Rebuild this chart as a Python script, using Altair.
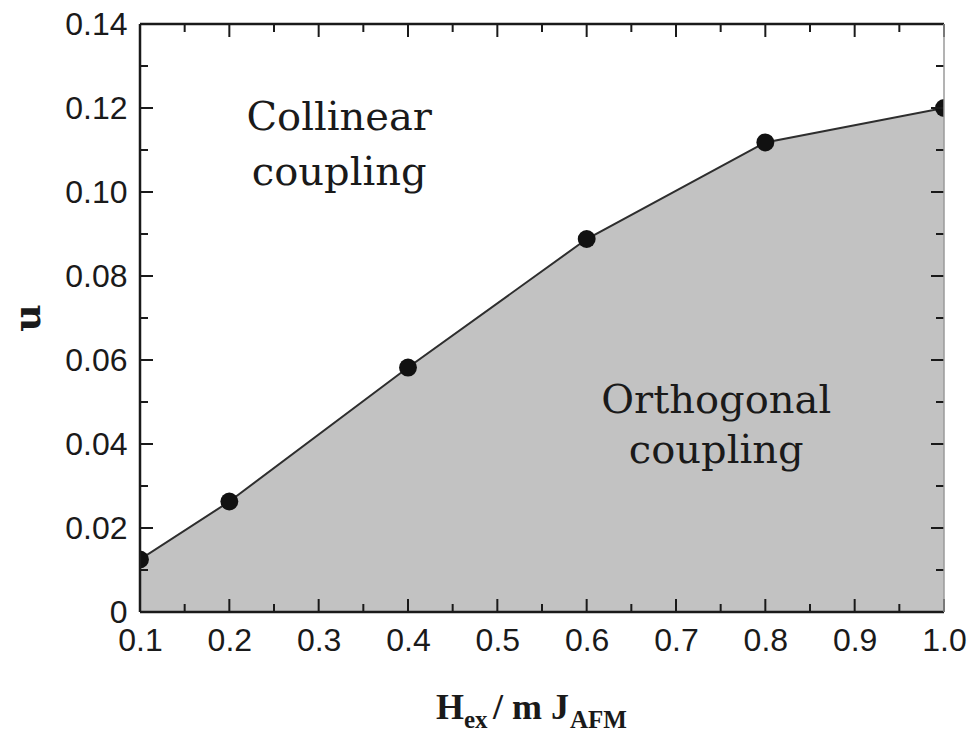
import altair as alt
import pandas as pd

# Phase boundary: exchange field ratio vs. u
h_ex = [0.1, 0.2, 0.4, 0.6, 0.8, 1.0]
u_boundary = [0.0125, 0.0263, 0.0582, 0.0888, 0.1118, 0.1200]

# Tick positions
x_major = [0.1, 0.2, 0.3, 0.4, 0.5, 0.6, 0.7, 0.8, 0.9, 1.0]
x_minor = [0.15, 0.25, 0.35, 0.45, 0.55, 0.65, 0.75, 0.85, 0.95]
y_major = [0.0, 0.02, 0.04, 0.06, 0.08, 0.10, 0.12, 0.14]
y_minor = [0.01, 0.03, 0.05, 0.07, 0.09, 0.11, 0.13]

# Region annotations (one row per text line)
region_text = ["Collinear", "coupling", "Orthogonal", "coupling"]
region_x = [0.323, 0.323, 0.745, 0.745]
region_y = [0.1148, 0.1017, 0.0474, 0.0355]

W, H = 804, 588
INK = "#1a1a1a"
SERIF = "DejaVu Serif"
TITLE_SERIF = "Liberation Serif"
SANS = "Liberation Sans"

xs = alt.Scale(domain=[0.1, 1.0], nice=False, zero=False)
ys = alt.Scale(domain=[0.0, 0.14], nice=False, zero=False)

X_AXIS = alt.Axis(
    values=x_major, format=".1f", ticks=False, tickSize=0, domain=False,
    grid=False, title=None, labelFont=SANS, labelFontSize=32,
    labelColor=INK, labelPadding=13, labelFlush=False,
)
Y_AXIS = alt.Axis(
    values=y_major, ticks=False, tickSize=0, domain=False, grid=False,
    title=None, labelFont=SANS, labelFontSize=32, labelColor=INK,
    labelPadding=13, labelFlush=False,
    labelExpr="datum.value == 0 ? '0' : format(datum.value, '.2f')",
)


def xenc(field):
    return alt.X(field, scale=xs, axis=X_AXIS)


def yenc(field):
    return alt.Y(field, scale=ys, axis=Y_AXIS)


curve = pd.DataFrame({"h": h_ex, "u": u_boundary})

area = alt.Chart(curve).mark_area(color="#c2c2c2", opacity=1, clip=True).encode(
    x=xenc("h:Q"), y=yenc("u:Q")
)
line = alt.Chart(curve).mark_line(color="#2e2e2e", strokeWidth=2, clip=True).encode(
    x=xenc("h:Q"), y=yenc("u:Q")
)
points = alt.Chart(curve).mark_circle(size=320, color="#111111", opacity=1, clip=True).encode(
    x=xenc("h:Q"), y=yenc("u:Q")
)


def xticks(vals, length):
    df = pd.DataFrame({"h": vals})
    bottom = alt.Chart(df).mark_rule(color=INK, strokeWidth=2).encode(
        x=xenc("h:Q"), y=alt.value(H), y2=alt.value(H - length)
    )
    top = alt.Chart(df).mark_rule(color=INK, strokeWidth=2).encode(
        x=xenc("h:Q"), y=alt.value(0), y2=alt.value(length)
    )
    return [bottom, top]


def yticks(vals, length):
    df = pd.DataFrame({"u": vals})
    left = alt.Chart(df).mark_rule(color=INK, strokeWidth=2).encode(
        y=yenc("u:Q"), x=alt.value(0), x2=alt.value(length)
    )
    right = alt.Chart(df).mark_rule(color=INK, strokeWidth=2).encode(
        y=yenc("u:Q"), x=alt.value(W), x2=alt.value(W - length)
    )
    return [left, right]


one = pd.DataFrame({"k": [0]})


def frame_side(x1, y1, x2, y2, color, width):
    return alt.Chart(one).mark_rule(color=color, strokeWidth=width).encode(
        x=alt.value(x1), y=alt.value(y1), x2=alt.value(x2), y2=alt.value(y2)
    )


frame = [
    frame_side(0, 0, 0, H, INK, 2.5),
    frame_side(0, H, W, H, INK, 2.5),
    frame_side(0, 0, W, 0, INK, 2.5),
    frame_side(W, 0, W, H, "#9a9a9a", 1.5),
]

regions = alt.Chart(
    pd.DataFrame({"h": region_x, "u": region_y, "t": region_text})
).mark_text(font=SERIF, fontSize=40, color=INK, align="center", baseline="alphabetic").encode(
    x=xenc("h:Q"), y=yenc("u:Q"), text="t:N"
)


def label(text, x, y, size, font, angle=0):
    return alt.Chart(one).mark_text(
        text=text, font=font, fontWeight="bold", fontSize=size, color=INK,
        align="left" if angle == 0 else "center", baseline="alphabetic", angle=angle,
    ).encode(x=alt.value(x), y=alt.value(y))


# Axis titles with subscripts
x_title = [
    label("H", 296, 695, 36, TITLE_SERIF),
    label("ex", 324, 704, 25, TITLE_SERIF),
    label("/ m J", 353, 695, 36, TITLE_SERIF),
    label("AFM", 430, 704, 25, TITLE_SERIF),
]
y_title = [label("u", -100, 294, 38, SERIF, angle=270)]

chart = alt.layer(
    area, line, points,
    *xticks(x_major, 13), *xticks(x_minor, 8),
    *yticks(y_major, 13), *yticks(y_minor, 8),
    *frame, regions, *x_title, *y_title,
).properties(
    width=W, height=H,
    padding={"left": 140, "top": 24, "right": 24, "bottom": 130},
    autosize=alt.AutoSizeParams(type="none"),
    background="white",
).configure_view(stroke=None)

chart.save("out.html", embed_options={"renderer": "svg", "actions": False})
